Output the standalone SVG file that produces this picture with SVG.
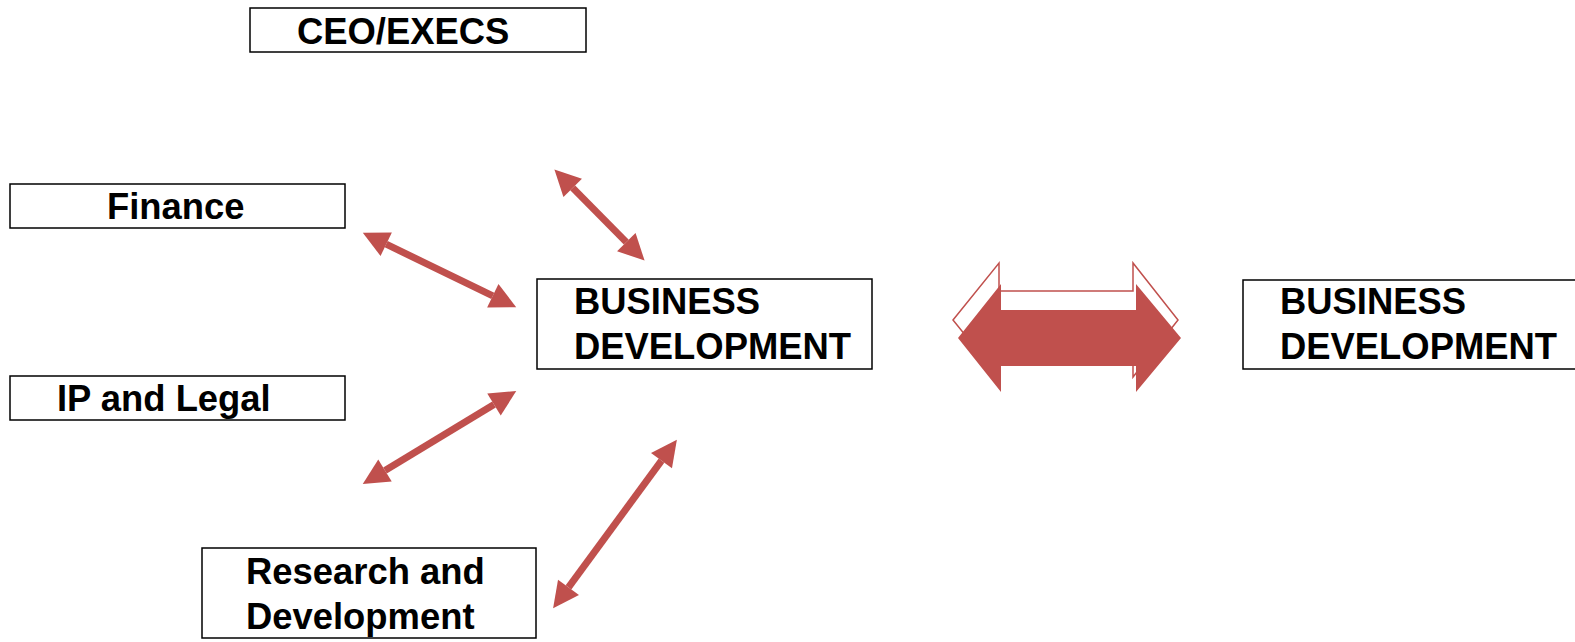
<svg xmlns="http://www.w3.org/2000/svg" width="1575" height="642" viewBox="0 0 1575 642">
<style>
.box{fill:#fff;stroke:#000;stroke-width:1.5}
.t{font-family:"Liberation Sans",Arial,sans-serif;font-weight:bold;font-size:36.4px;fill:#000}
.conn{stroke:#C0504D;stroke-width:7;fill:none}
</style>
<defs>
<marker id="ah" viewBox="0 0 10 10" refX="0" refY="5" markerUnits="userSpaceOnUse" markerWidth="28" markerHeight="26" orient="auto-start-reverse">
<path d="M0,0 L10,5 L0,10 z" fill="#C0504D"/>
</marker>
</defs>
<rect width="1575" height="642" fill="#fff"/>
<g id="ceo"><rect class="box" x="250" y="8" width="336" height="44"/><text class="t" x="297" y="44">CEO/EXECS</text></g>
<g id="finance"><rect class="box" x="10" y="184" width="335" height="44"/><text class="t" x="107" y="219">Finance</text></g>
<g id="ip"><rect class="box" x="10" y="376" width="335" height="44"/><text class="t" x="57" y="411">IP and Legal</text></g>
<g id="bd1"><rect class="box" x="537" y="279" width="335" height="90"/><text class="t" x="574" y="314">BUSINESS</text><text class="t" x="574" y="359">DEVELOPMENT</text></g>
<g id="bd2"><rect class="box" x="1243" y="280" width="340" height="89"/><text class="t" x="1280" y="314">BUSINESS</text><text class="t" x="1280" y="359">DEVELOPMENT</text></g>
<g id="rd"><rect class="box" x="202" y="548" width="334" height="90"/><text class="t" x="246" y="584">Research and</text><text class="t" x="246" y="629">Development</text></g>
<g id="connectors">
<line class="conn" x1="572.7" y1="187.9" x2="626.3" y2="242.1" marker-start="url(#ah)" marker-end="url(#ah)"/>
<line class="conn" x1="386.2" y1="244.2" x2="492.8" y2="295.8" marker-start="url(#ah)" marker-end="url(#ah)"/>
<line class="conn" x1="494.0" y1="404.5" x2="385.0" y2="470.5" marker-start="url(#ah)" marker-end="url(#ah)"/>
<line class="conn" x1="661.5" y1="460.6" x2="568.5" y2="587.4" marker-start="url(#ah)" marker-end="url(#ah)"/>
<polygon points="953,320 999,263 999,291 1133,291 1133,263 1178,320 1133,377 1133,349 999,349 999,377" fill="#fff" stroke="#C0504D" stroke-width="1.5"/>
<polygon points="958,338 1001,284 1001,310 1136,310 1136,284 1181,338 1136,392 1136,366 1001,366 1001,392" fill="#C0504D"/>
</g>
</svg>
